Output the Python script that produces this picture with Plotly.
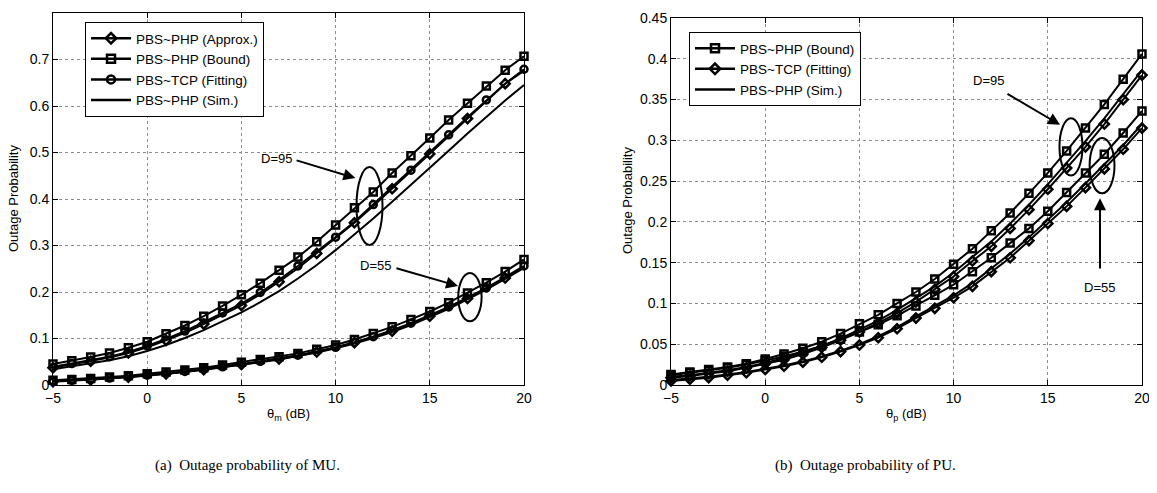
import plotly.graph_objects as go

theta = list(range(-5, 21))

# ---- (a) MU outage probability ----
mu95_approx = [0.037, 0.044, 0.051, 0.059, 0.069, 0.081, 0.096, 0.112, 0.131, 0.151, 0.171, 0.195, 0.222,
               0.251, 0.283, 0.315, 0.349, 0.385, 0.422, 0.459, 0.497, 0.535, 0.573, 0.611, 0.648, 0.676]
mu95_bound = [0.045, 0.052, 0.060, 0.069, 0.080, 0.093, 0.110, 0.128, 0.148, 0.170, 0.194, 0.219, 0.247,
              0.275, 0.308, 0.344, 0.381, 0.415, 0.456, 0.493, 0.531, 0.570, 0.606, 0.643, 0.677, 0.707]
mu95_fit = [0.039, 0.046, 0.053, 0.061, 0.071, 0.084, 0.099, 0.116, 0.135, 0.155, 0.175, 0.199, 0.226,
            0.256, 0.286, 0.318, 0.351, 0.388, 0.425, 0.462, 0.500, 0.538, 0.576, 0.613, 0.648, 0.679]
mu95_sim = [0.034, 0.040, 0.046, 0.053, 0.062, 0.073, 0.086, 0.101, 0.118, 0.137, 0.156, 0.178, 0.202,
            0.229, 0.258, 0.290, 0.323, 0.358, 0.394, 0.430, 0.467, 0.504, 0.541, 0.577, 0.612, 0.645]

mu55_approx = [0.007, 0.009, 0.011, 0.014, 0.017, 0.020, 0.024, 0.028, 0.033, 0.038, 0.044, 0.050, 0.056,
               0.063, 0.071, 0.080, 0.091, 0.103, 0.116, 0.131, 0.148, 0.166, 0.186, 0.207, 0.230, 0.253]
mu55_bound = [0.010, 0.012, 0.014, 0.017, 0.020, 0.024, 0.028, 0.032, 0.037, 0.043, 0.049, 0.055, 0.061,
              0.068, 0.077, 0.086, 0.098, 0.111, 0.125, 0.141, 0.158, 0.177, 0.198, 0.220, 0.244, 0.270]
mu55_fit = [0.008, 0.010, 0.012, 0.015, 0.018, 0.021, 0.025, 0.029, 0.034, 0.039, 0.045, 0.051, 0.057,
            0.064, 0.072, 0.081, 0.092, 0.104, 0.118, 0.133, 0.150, 0.168, 0.188, 0.209, 0.232, 0.256]
mu55_sim = [0.008, 0.010, 0.012, 0.014, 0.017, 0.020, 0.024, 0.028, 0.033, 0.038, 0.043, 0.049, 0.055,
            0.062, 0.070, 0.079, 0.089, 0.101, 0.114, 0.129, 0.146, 0.164, 0.184, 0.205, 0.228, 0.252]

# ---- (b) PU outage probability ----
pu95_bound = [0.013, 0.016, 0.019, 0.022, 0.026, 0.032, 0.038, 0.045, 0.053, 0.063, 0.075, 0.086, 0.100,
              0.114, 0.130, 0.148, 0.167, 0.189, 0.211, 0.235, 0.260, 0.287, 0.315, 0.344, 0.375, 0.406]
pu95_fit = [0.009, 0.011, 0.014, 0.017, 0.021, 0.026, 0.031, 0.038, 0.046, 0.055, 0.065, 0.076, 0.088,
            0.102, 0.117, 0.133, 0.152, 0.170, 0.192, 0.215, 0.240, 0.266, 0.292, 0.320, 0.350, 0.380]
pu95_sim = [0.010, 0.012, 0.015, 0.018, 0.022, 0.027, 0.033, 0.040, 0.048, 0.057, 0.068, 0.079, 0.092,
            0.106, 0.121, 0.138, 0.157, 0.176, 0.198, 0.221, 0.246, 0.272, 0.299, 0.327, 0.356, 0.386]
pu55_bound = [0.012, 0.015, 0.018, 0.021, 0.025, 0.030, 0.035, 0.041, 0.048, 0.056, 0.065, 0.074, 0.085,
              0.097, 0.110, 0.123, 0.139, 0.156, 0.174, 0.192, 0.213, 0.236, 0.260, 0.283, 0.309, 0.336]
pu55_fit = [0.005, 0.007, 0.009, 0.012, 0.015, 0.019, 0.023, 0.028, 0.034, 0.041, 0.049, 0.058, 0.069,
            0.082, 0.094, 0.107, 0.121, 0.139, 0.156, 0.177, 0.198, 0.219, 0.242, 0.265, 0.289, 0.315]
pu55_sim = [0.006, 0.008, 0.010, 0.013, 0.016, 0.020, 0.024, 0.029, 0.035, 0.042, 0.050, 0.060, 0.071,
            0.084, 0.097, 0.110, 0.125, 0.143, 0.161, 0.181, 0.202, 0.224, 0.247, 0.270, 0.294, 0.320]

W, H = 1157, 493
OFF = 8  # default page body margin of the html page
SANS = "Liberation Sans, Arial, Helvetica, sans-serif"
SERIF = "Liberation Serif, Times New Roman, serif"


def px_x(p):
    return (p - OFF) / W


def px_y(p):
    return 1 - (p - OFF) / H


fig = go.Figure()


def add_series(x, y, symbol, xa, ya, every=None, parity=0):
    fig.add_trace(go.Scatter(x=x, y=y, mode="lines", line=dict(color="black", width=2),
                             showlegend=False, xaxis=xa, yaxis=ya, cliponaxis=False, hoverinfo="skip"))
    if symbol:
        if every:
            xs = [a for a in x if (a - x[0]) % every == parity]
            ys = [b for a, b in zip(x, y) if (a - x[0]) % every == parity]
        else:
            xs, ys = x, y
        fig.add_trace(go.Scatter(x=xs, y=ys, mode="markers",
                                 marker=dict(symbol=symbol, size=7, color="black",
                                             line=dict(color="black", width=2.5)),
                                 showlegend=False, xaxis=xa, yaxis=ya, cliponaxis=False, hoverinfo="skip"))


def add_legend(name, symbol, legend, xa, ya):
    mode = "lines+markers" if symbol else "lines"
    fig.add_trace(go.Scatter(x=[None], y=[None], mode=mode, name=name,
                             line=dict(color="black", width=2.5),
                             marker=dict(symbol=symbol or "circle", size=8, color="black",
                                         line=dict(color="black", width=2.5)),
                             legend=legend, xaxis=xa, yaxis=ya))


# left subplot
for yy in (mu95_sim, mu55_sim):
    add_series(theta, yy, None, "x", "y")
for yy in (mu95_bound, mu55_bound):
    add_series(theta, yy, "square-open", "x", "y")
for yy in (mu95_approx, mu55_approx):
    add_series(theta, yy, "diamond-open", "x", "y", every=2, parity=0)
for yy in (mu95_fit, mu55_fit):
    add_series(theta, yy, "circle-open", "x", "y", every=2, parity=1)

add_legend("PBS~PHP (Approx.)", "diamond-open", "legend", "x", "y")
add_legend("PBS~PHP (Bound)", "square-open", "legend", "x", "y")
add_legend("PBS~TCP (Fitting)", "circle-open", "legend", "x", "y")
add_legend("PBS~PHP (Sim.)", None, "legend", "x", "y")

# right subplot
for yy in (pu95_sim, pu55_sim):
    add_series(theta, yy, None, "x2", "y2")
for yy in (pu95_bound, pu55_bound):
    add_series(theta, yy, "square-open", "x2", "y2")
for yy in (pu95_fit, pu55_fit):
    add_series(theta, yy, "diamond-open", "x2", "y2")

add_legend("PBS~PHP (Bound)", "square-open", "legend2", "x2", "y2")
add_legend("PBS~TCP (Fitting)", "diamond-open", "legend2", "x2", "y2")
add_legend("PBS~PHP (Sim.)", None, "legend2", "x2", "y2")

axis_common = dict(showline=True, linecolor="black", linewidth=1, mirror="ticks",
                   ticks="inside", ticklen=5, tickcolor="black",
                   showgrid=True, gridcolor="#8c8c8c", griddash="dot", gridwidth=1,
                   zeroline=False, automargin=False,
                   tickfont=dict(family=SANS, size=14, color="black"))

fig.update_layout(
    width=W, height=H,
    margin=dict(l=0, r=0, t=0, b=0),
    paper_bgcolor="white", plot_bgcolor="white",
    xaxis=dict(domain=[px_x(53), px_x(524)], range=[-5, 20], tickvals=[-5, 0, 5, 10, 15, 20],
               anchor="y", **axis_common),
    yaxis=dict(domain=[px_y(385), px_y(13)], range=[0, 0.8], dtick=0.1, tick0=0,
               anchor="x", **axis_common),
    xaxis2=dict(domain=[px_x(671), px_x(1142)], range=[-5, 20], tickvals=[-5, 0, 5, 10, 15, 20],
                anchor="y2", **axis_common),
    yaxis2=dict(domain=[px_y(385), px_y(18)], range=[0, 0.45], dtick=0.05, tick0=0,
                anchor="x2", **axis_common),
    legend=dict(x=px_x(85), y=px_y(22), xanchor="left", yanchor="top",
                bordercolor="black", borderwidth=1, bgcolor="white",
                font=dict(family=SANS, size=13.5, color="black"), itemwidth=40,
                tracegroupgap=0),
    legend2=dict(x=px_x(689), y=px_y(32), xanchor="left", yanchor="top",
                 bordercolor="black", borderwidth=1, bgcolor="white",
                 font=dict(family=SANS, size=13.5, color="black"), itemwidth=40,
                 tracegroupgap=0),
    showlegend=True,
)

# ellipses
ell = dict(type="circle", line=dict(color="black", width=2), fillcolor="rgba(0,0,0,0)")
fig.add_shape(xref="x", yref="y", x0=11.8 - 0.69, x1=11.8 + 0.69, y0=0.385 - 0.084, y1=0.385 + 0.084, **ell)
fig.add_shape(xref="x", yref="y", x0=17.13 - 0.62, x1=17.13 + 0.62, y0=0.189 - 0.052, y1=0.189 + 0.052, **ell)
fig.add_shape(xref="x2", yref="y2", x0=16.23 - 0.61, x1=16.23 + 0.61, y0=0.292 - 0.035, y1=0.292 + 0.035, **ell)
fig.add_shape(xref="x2", yref="y2", x0=17.88 - 0.66, x1=17.88 + 0.66, y0=0.269 - 0.034, y1=0.269 + 0.034, **ell)

# arrows
arr = dict(text="", showarrow=True, arrowhead=2, arrowsize=1.2, arrowwidth=2, arrowcolor="black")
fig.add_annotation(xref="x", yref="y", axref="x", ayref="y", x=11.05, y=0.445, ax=7.85, ay=0.484, **arr)
fig.add_annotation(xref="x", yref="y", axref="x", ayref="y", x=16.5, y=0.213, ax=13.15, ay=0.252, **arr)
fig.add_annotation(xref="x2", yref="y2", axref="x2", ayref="y2", x=15.65, y=0.319, ax=12.78, ay=0.358, **arr)
fig.add_annotation(xref="x2", yref="y2", axref="x2", ayref="y2", x=17.77, y=0.229, ax=17.77, ay=0.141, **arr)

lab = dict(showarrow=False, font=dict(family=SANS, size=13, color="black"), yanchor="middle")
fig.add_annotation(xref="x", yref="y", x=7.8, y=0.487, text="D=95", xanchor="right", **lab)
fig.add_annotation(xref="x", yref="y", x=12.1, y=0.256, text="D=55", xanchor="center", **lab)
fig.add_annotation(xref="x2", yref="y2", x=11.83, y=0.373, text="D=95", xanchor="center", **lab)
fig.add_annotation(xref="x2", yref="y2", x=17.77, y=0.119, text="D=55", xanchor="center", **lab)

# axis titles
fig.add_annotation(xref="paper", yref="paper", x=px_x(14), y=px_y(199), text="Outage Probability",
                   textangle=-90, xanchor="center", **lab)
fig.add_annotation(xref="paper", yref="paper", x=px_x(627), y=px_y(201), text="Outage Probability",
                   textangle=-90, xanchor="center", **lab)
fig.add_annotation(xref="paper", yref="paper", x=px_x(288), y=px_y(414), text="θ<sub>m</sub> (dB)",
                   xanchor="center", **lab)
fig.add_annotation(xref="paper", yref="paper", x=px_x(906), y=px_y(414), text="θ<sub>p</sub> (dB)",
                   xanchor="center", **lab)

# captions
cap = dict(showarrow=False, font=dict(family=SERIF, size=15, color="black"), xanchor="center", yanchor="middle")
fig.add_annotation(xref="paper", yref="paper", x=px_x(247), y=px_y(465), text="(a)  Outage probability of MU.", **cap)
fig.add_annotation(xref="paper", yref="paper", x=px_x(865), y=px_y(465), text="(b)  Outage probability of PU.", **cap)

fig.write_html("out.html")
